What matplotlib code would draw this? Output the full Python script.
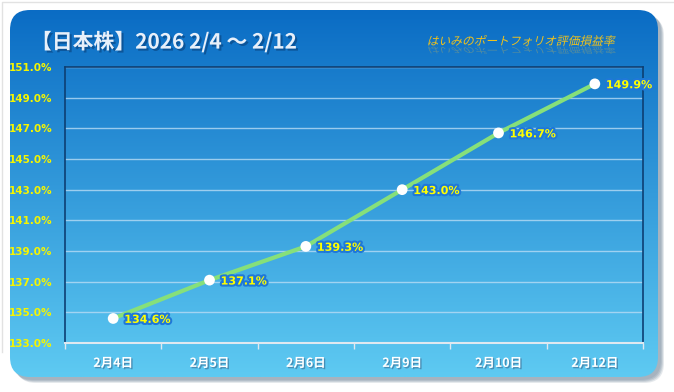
import numpy as np
import matplotlib
matplotlib.use("Agg")
import matplotlib.pyplot as plt
from matplotlib.patches import FancyBboxPatch, PathPatch
from matplotlib.textpath import TextPath
from matplotlib.font_manager import FontProperties
from matplotlib.transforms import Affine2D
import matplotlib.patheffects as pe

plt.rcParams['font.family'] = ['Noto Sans CJK JP', 'DejaVu Sans']

dates = ['2月4日', '2月5日', '2月6日', '2月9日', '2月10日', '2月12日']
values = [134.6, 137.1, 139.3, 143.0, 146.7, 149.9]
yticks = np.arange(133, 152, 2)

W, H = 674, 392
fig = plt.figure(figsize=(W / 100, H / 100), dpi=100)
fig.patch.set_facecolor('white')

# background panel with gradient
bg = fig.add_axes([0, 0, 1, 1])
bg.set_xlim(0, W)
bg.set_ylim(H, 0)
bg.axis('off')

# faint outer frame of the screenshot
bg.plot([2, 2, W], [H - 40, 2, 2], color='#e2e2e2', lw=1)

# soft shadow
for off, a in [(6, 0.25), (5, 0.35), (4, 0.45), (3, 0.5)]:
    sh = FancyBboxPatch((10 + off, 10 + off), 648, 367,
                        boxstyle="round,pad=0,rounding_size=20",
                        fc='#9aa8b6', ec='none', alpha=a)
    bg.add_patch(sh)
panel = FancyBboxPatch((10, 10), 648, 367, boxstyle="round,pad=0,rounding_size=20",
                       fc='none', ec='none')
bg.add_patch(panel)
top = np.array([10, 108, 196]) / 255
bot = np.array([94, 202, 242]) / 255
t = np.linspace(0, 1, 256)[:, None]
grad = top + (bot - top) * t
grad = np.repeat(grad[:, None, :], 2, axis=1)
im = bg.imshow(grad, extent=[10, 658, 377, 10], aspect='auto', zorder=1)
im.set_clip_path(panel)

# titles
bg.text(31, 42, '【日本株】2026 2/4 〜 2/12', color='#e8f0fa', fontsize=15,
        fontweight='bold', va='center', ha='left', zorder=5,
        path_effects=[pe.withSimplePatchShadow(offset=(1.5, -1.5), shadow_rgbFace='#08407a', alpha=0.6)])

# italic subtitle with reflection (skewed text path)
fp = FontProperties(family='Noto Sans CJK JP', weight='normal')
tp = TextPath((0, 0), 'はいみのポートフォリオ評価損益率', size=12, prop=fp)
ext = tp.get_extents()
sub_w = 186
sc = sub_w / ext.width
base = Affine2D().translate(-ext.x0, 0).skew_deg(14, 0).scale(sc, -sc).translate(428, 45)
bg.add_patch(PathPatch(tp, transform=base + bg.transData, fc='#f0c21c', ec='none', zorder=6))
refl = Affine2D().translate(-ext.x0, 0).skew_deg(14, 0).scale(sc, sc * 0.7).translate(428, 47)
bg.add_patch(PathPatch(tp, transform=refl + bg.transData, fc='#e8c040', ec='none',
                       alpha=0.3, zorder=5))

# main chart
ax = fig.add_axes([65 / W, 1 - 343 / H, (643 - 65) / W, (343 - 67) / H])
ax.set_facecolor('none')
x = np.arange(len(dates))
ax.plot(x, values, color='#86e07a', lw=3, zorder=3, solid_capstyle='round')
ax.scatter(x, values, s=60, color='white', zorder=4, edgecolor='none')
for xi, v in zip(x, values):
    ax.annotate(f'{v:.1f}%', (xi, v), xytext=(8, -1), textcoords='offset points',
                color='#ffff00', fontsize=8, fontweight='bold', va='center', ha='left',
                family=['DejaVu Sans'], zorder=5,
                path_effects=[pe.withStroke(linewidth=3, foreground='#1f78d8')])

ax.set_xlim(-0.5, len(dates) - 0.5)
ax.set_ylim(133, 151)
ax.set_yticks(yticks)
ax.set_yticklabels([f'{v:.1f}%' for v in yticks], color='#f5f500', fontsize=7.5,
                   fontweight='bold', family=['DejaVu Sans'])
ax.grid(axis='y', color='#b8dcf5', lw=1, alpha=0.8)
ax.set_axisbelow(True)
ax.set_xticks(x)
ax.set_xticklabels(dates, color='white', fontsize=9, fontweight='bold')
for lab in ax.get_xticklabels():
    lab.set_path_effects([pe.withSimplePatchShadow(offset=(1, -1), shadow_rgbFace='#3a6a90', alpha=0.6)])
ax.set_xticks(np.arange(-0.5, len(dates), 1), minor=True)
ax.tick_params(axis='x', which='major', length=0, pad=10)
ax.tick_params(axis='x', which='minor', length=4, color='#dfe8f0', width=1)
ax.tick_params(axis='y', length=0, pad=9)
for s in ['left', 'right', 'top']:
    ax.spines[s].set_color('#0d3f73')
    ax.spines[s].set_linewidth(1.2)
ax.spines['bottom'].set_color('#dfe8f0')
ax.spines['bottom'].set_linewidth(1.5)

fig.savefig('out.png', dpi=100)
